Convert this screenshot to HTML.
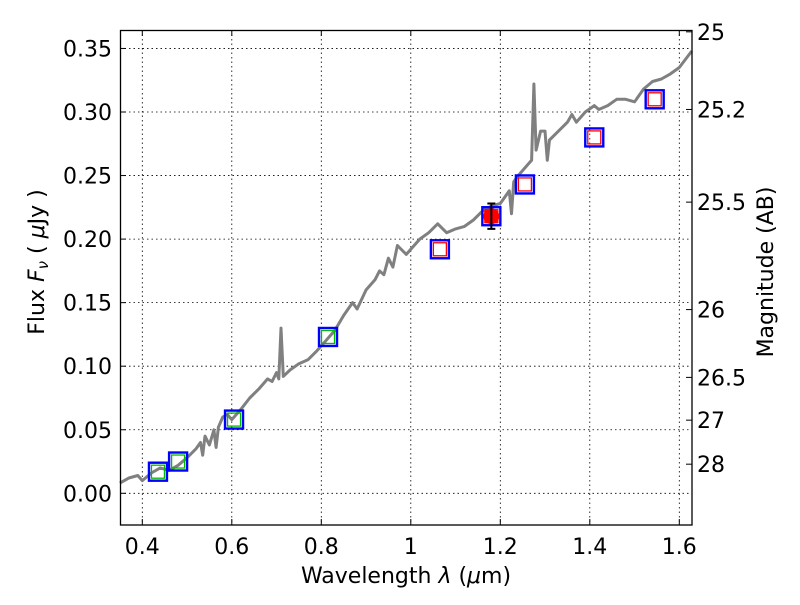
<!DOCTYPE html>
<html><head><meta charset="utf-8"><style>
body{margin:0;background:#fff}
text{font-family:"DejaVu Sans","Liberation Sans",sans-serif;fill:#000}
</style></head><body>
<svg id="chart" width="800" height="600" xmlns="http://www.w3.org/2000/svg">
<rect width="800" height="600" fill="#fff"/>
<g id="grid"></g>
<g id="spec"></g>
<g id="pts"></g>
<rect x="120.5" y="30.5" width="571.5" height="494.5" fill="none" stroke="#000" stroke-width="1.3"/>
<g id="axes"></g>
<text x="406" y="583" font-size="22" text-anchor="middle">Wavelength  <tspan font-style="italic">λ</tspan> (<tspan font-style="italic">μ</tspan>m)</text>
<text transform="translate(44,262) rotate(-90)" font-size="22" text-anchor="middle">Flux  <tspan font-style="italic">F<tspan font-size="15" dy="4">ν</tspan></tspan><tspan dy="-4">  (  </tspan><tspan font-style="italic">μ</tspan>Jy )</text>
<text transform="translate(773,272) rotate(-90)" font-size="22" text-anchor="middle">Magnitude (AB)</text>
</svg>
<script>
const specX=[0.35,0.37,0.39,0.40,0.42,0.44,0.46,0.48,0.50,0.52,0.53,0.535,0.54,0.55,0.56,0.565,0.57,0.58,0.59,0.60,0.62,0.64,0.66,0.68,0.69,0.70,0.705,0.71,0.715,0.73,0.75,0.77,0.79,0.81,0.83,0.85,0.87,0.88,0.90,0.92,0.93,0.94,0.95,0.96,0.97,0.99,1.00,1.02,1.04,1.06,1.08,1.10,1.12,1.14,1.16,1.18,1.20,1.22,1.225,1.23,1.24,1.26,1.27,1.275,1.28,1.29,1.30,1.305,1.31,1.33,1.35,1.36,1.37,1.39,1.41,1.42,1.44,1.46,1.48,1.50,1.52,1.54,1.56,1.58,1.60,1.628];
const specY=[0.008,0.012,0.014,0.010,0.016,0.020,0.018,0.022,0.028,0.035,0.040,0.030,0.045,0.038,0.050,0.036,0.052,0.060,0.062,0.058,0.066,0.075,0.082,0.090,0.088,0.095,0.090,0.130,0.092,0.097,0.102,0.105,0.112,0.120,0.128,0.140,0.150,0.145,0.160,0.168,0.175,0.172,0.185,0.178,0.195,0.188,0.192,0.200,0.205,0.212,0.205,0.208,0.210,0.215,0.222,0.226,0.228,0.238,0.220,0.245,0.250,0.258,0.262,0.322,0.270,0.285,0.285,0.262,0.278,0.285,0.292,0.298,0.292,0.300,0.305,0.302,0.305,0.310,0.310,0.308,0.318,0.324,0.326,0.330,0.335,0.348];
const bandX=[0.435,0.48,0.605,0.815,1.065,1.18,1.255,1.41,1.545];
const bandY=[0.017,0.025,0.058,0.123,0.192,0.218,0.243,0.280,0.310];
const measX=[1.18];
const measY=[0.218];
const measErr=[0.010];
const xTicks=[0.4,0.6,0.8,1,1.2,1.4,1.6];
const yTicks=[0,0.05,0.10,0.15,0.20,0.25,0.30,0.35];
const magTicks=[25,25.2,25.5,26,26.5,27,28];
const magLabels=["25","25.2","25.5","26","26.5","27","28"];
const X=v=>142.3+(v-0.4)*447.5;
const Y=v=>493.3-v*1271;
const magToFlux=m=>Math.pow(10,(23.9-m)/2.5);
const NS="http://www.w3.org/2000/svg";
function mk(tag,attrs,parent){const e=document.createElementNS(NS,tag);for(const k in attrs)e.setAttribute(k,attrs[k]);parent.appendChild(e);return e;}
const grid=document.getElementById('grid'),axes=document.getElementById('axes');
xTicks.forEach(t=>{const x=X(t);
 let g=mk('line',{x1:x,x2:x,y1:30,y2:525,stroke:'#000','stroke-width':0.8,'stroke-dasharray':'1.5,3'},grid);
 
 mk('line',{x1:x,x2:x,y1:525,y2:519,stroke:'#000'},axes);mk('line',{x1:x,x2:x,y1:30,y2:36,stroke:'#000'},axes);
 let l=mk('text',{x:x,y:554,'font-size':22,'text-anchor':'middle'},axes);l.textContent=(t===1?'1':t.toFixed(1));
 });
yTicks.forEach(t=>{const y=Y(t);
 let g=mk('line',{x1:120,x2:692,y1:y,y2:y,stroke:'#000','stroke-width':0.8,'stroke-dasharray':'1.5,3'},grid);
 
 mk('line',{x1:120,x2:126,y1:y,y2:y,stroke:'#000'},axes);
 let l=mk('text',{x:112,y:y+8,'font-size':22,'text-anchor':'end'},axes);l.textContent=t.toFixed(2);
 });
magTicks.forEach((m,i)=>{const y=Y(magToFlux(m));
 mk('line',{x1:692,x2:686,y1:y,y2:y,stroke:'#000'},axes);
 let l=mk('text',{x:697,y:y+8,'font-size':22},axes);l.textContent=magLabels[i];
 });
const sp=document.getElementById('spec');
let d=specX.map((x,i)=>(i?'L':'M')+X(x).toFixed(1)+','+Y(specY[i]).toFixed(1)).join('');
let p=mk('path',{d:d,fill:'none',stroke:'#808080','stroke-width':3,'stroke-linejoin':'round'},sp);

const pts=document.getElementById('pts');
bandX.forEach((x,i)=>{const cx=X(x),cy=Y(bandY[i]);const col=x<0.9?'#00bb00':'#ff0000';
 let o=mk('rect',{x:cx-9,y:cy-9,width:18,height:18,fill:'none',stroke:'#0000ff','stroke-width':2.4},pts);
 
 let n=mk('rect',{x:cx-6.5,y:cy-6.5,width:13,height:13,fill:'none',stroke:col,'stroke-width':1.3},pts);
 });
measX.forEach((x,i)=>{const cx=X(x),cy=Y(measY[i]);
 let c=mk('circle',{cx:cx,cy:cy,r:8,fill:'#ff0000'},pts);
 
 const y1=Y(measY[i]+measErr[i]),y2=Y(measY[i]-measErr[i]);
 let e=mk('path',{d:`M${cx},${y1}L${cx},${y2}M${cx-4},${y1}L${cx+4},${y1}M${cx-4},${y2}L${cx+4},${y2}`,stroke:'#000','stroke-width':2},pts);
 });
</script>
</body></html>
